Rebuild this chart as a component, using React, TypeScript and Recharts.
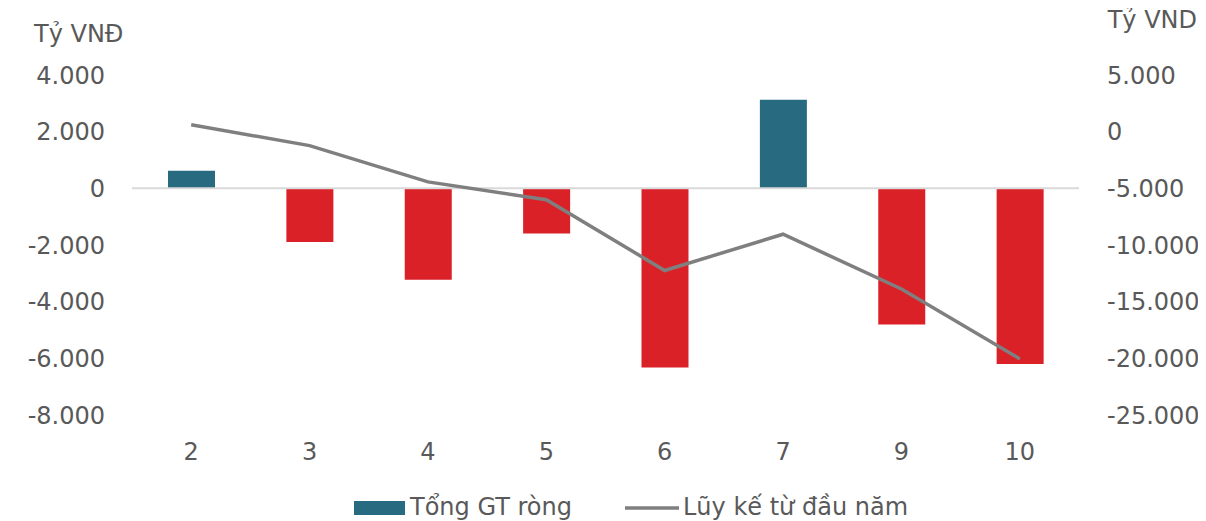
import React from 'react';
import { ComposedChart, Bar, Line, XAxis, YAxis, ReferenceLine, Cell } from 'recharts';

const months = ['2', '3', '4', '5', '6', '7', '9', '10'];
const netValue = [620, -1890, -3230, -1590, -6320, 3130, -4810, -6200];
const cumulative = [610, -1230, -4430, -6000, -12250, -9050, -13880, -20050];
const leftTicks = [-8000, -6000, -4000, -2000, 0, 2000, 4000];
const rightTicks = [-25000, -20000, -15000, -10000, -5000, 0, 5000];

const seriesNames = ['Tổng GT ròng', 'Lũy kế từ đầu năm'];
const unitLeft = 'Tỷ VNĐ';
const unitRight = 'Tỷ VND';

const data = months.map((m, i) => ({ month: m, net: netValue[i], cum: cumulative[i] }));

const fmt = (v: number) => {
  const s = Math.abs(v).toString().replace(/\B(?=(\d{3})+(?!\d))/g, '.');
  return (v < 0 ? '-' : '') + s;
};

const TEAL = '#286B80';
const RED = '#DA2128';
const GRAY = '#7F7F7F';
const TXT = '#595959';
const FONT = 'DejaVu Sans';

const tickStyle = { fill: TXT, fontSize: 24, fontFamily: FONT };

export default function App() {
  return (
    <div style={{ position: 'relative', width: 1206, height: 521, margin: '-8px 0 0 -8px', background: '#fff' }}>
      <ComposedChart
        width={1206}
        height={521}
        data={data}
        margin={{ top: 75, right: 0, bottom: 46, left: 0 }}
      >
        <XAxis
          dataKey="month"
          axisLine={false}
          tickLine={false}
          tickSize={0}
          tickMargin={28}
          height={60}
          interval={0}
          tick={tickStyle}
        />
        <YAxis
          yAxisId="left"
          orientation="left"
          width={132}
          domain={[-8000, 4000]}
          ticks={leftTicks}
          interval={0}
          axisLine={false}
          tickLine={false}
          tickSize={0}
          tickMargin={27}
          tickFormatter={fmt}
          tick={tickStyle}
        />
        <YAxis
          yAxisId="right"
          orientation="right"
          width={127}
          domain={[-25000, 5000]}
          ticks={rightTicks}
          interval={0}
          axisLine={false}
          tickLine={false}
          tickSize={0}
          tickMargin={28}
          tickFormatter={fmt}
          tick={tickStyle}
        />
        <Bar yAxisId="left" dataKey="net" name={seriesNames[0]} barSize={47} isAnimationActive={false}>
          {data.map((d, i) => (
            <Cell key={i} fill={d.net >= 0 ? TEAL : RED} />
          ))}
        </Bar>
        <ReferenceLine yAxisId="left" y={0} stroke="#D9D9D9" strokeWidth={2} />
        <Line
          yAxisId="right"
          dataKey="cum"
          name={seriesNames[1]}
          stroke={GRAY}
          strokeWidth={3.5}
          dot={false}
          activeDot={false}
          isAnimationActive={false}
        />
      </ComposedChart>
      <svg
        width={1206}
        height={521}
        style={{ position: 'absolute', left: 0, top: 0, pointerEvents: 'none' }}
      >
        <rect x={16} y={0} width={21} height={6} fill={RED} />
        <text x={34} y={42} fill={TXT} fontSize={24} fontFamily={FONT}>{unitLeft}</text>
        <text x={1197} y={28} fill={TXT} fontSize={24} fontFamily={FONT} textAnchor="end">{unitRight}</text>
        <rect x={354} y={501} width={51} height={14} fill={TEAL} />
        <text x={410} y={515} fill={TXT} fontSize={24} fontFamily={FONT}>{seriesNames[0]}</text>
        <line x1={625} x2={679} y1={508} y2={508} stroke={GRAY} strokeWidth={3.5} />
        <text x={683} y={515} fill={TXT} fontSize={24} fontFamily={FONT}>{seriesNames[1]}</text>
      </svg>
    </div>
  );
}
